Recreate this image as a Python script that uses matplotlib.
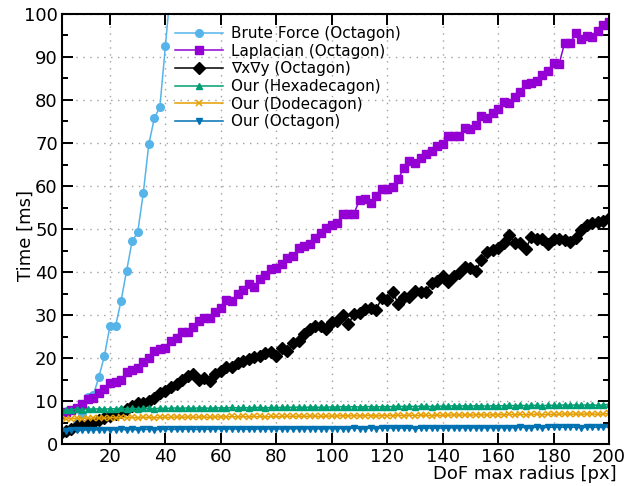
import numpy as np
import matplotlib
matplotlib.use('Agg')
import matplotlib.pyplot as plt
from matplotlib.ticker import MultipleLocator

# radius samples (every 2 px)
radius = np.arange(2, 201, 2)

brute_x = radius[:21]
brute = [2.4, 2.8, 3.6, 5.0, 7.0, 11.0, 11.4, 15.6, 20.5, 27.5,
         27.4, 33.3, 40.3, 47.2, 49.2, 58.3, 69.7, 75.8, 78.4, 92.6,
         107.0]

laplacian = [7.0, 7.5, 8.0, 8.3, 9.3, 10.4, 10.6, 11.8, 12.9, 14.1,
             14.5, 15.0, 16.7, 17.2, 17.6, 19.1, 19.9, 21.6, 22.0, 22.4,
             24.0, 24.6, 26.1, 26.1, 27.3, 28.7, 29.2, 29.3, 30.8, 31.7,
             33.5, 33.2, 34.8, 35.8, 37.2, 36.6, 38.3, 39.2, 40.7, 40.9,
             41.9, 43.3, 43.7, 45.5, 46.0, 46.5, 47.8, 49.0, 50.2, 51.0,
             51.4, 53.6, 53.5, 53.6, 56.7, 56.9, 56.1, 57.7, 59.3, 59.3,
             59.8, 61.6, 64.3, 65.7, 65.3, 66.4, 67.4, 68.2, 69.4, 69.8,
             71.7, 71.7, 71.7, 73.6, 73.2, 74.2, 76.3, 75.7, 77.0, 78.0,
             79.6, 79.2, 80.6, 81.9, 83.7, 84.0, 84.5, 85.8, 86.7, 88.5,
             88.4, 93.3, 93.2, 95.5, 94.1, 94.9, 94.7, 96.1, 97.4, 98.1]

gradxy = [2.3, 3.0, 3.6, 4.2, 4.4, 4.6, 5.0, 5.5, 6.0, 6.5,
          7.0, 7.5, 8.1, 8.9, 9.6, 9.6, 10.1, 10.6, 11.8, 12.4,
          13.3, 13.9, 14.9, 15.7, 16.3, 15.0, 15.3, 14.7, 16.3, 17.0,
          18.0, 18.0, 18.8, 19.4, 19.7, 20.2, 20.5, 21.1, 21.5, 20.5,
          22.3, 21.6, 23.4, 24.0, 25.5, 26.8, 27.4, 27.5, 26.8, 28.4,
          28.7, 30.0, 27.9, 30.2, 30.4, 31.4, 31.6, 31.2, 34.0, 33.5,
          35.4, 32.5, 34.1, 34.1, 35.6, 35.4, 35.4, 37.5, 37.9, 39.1,
          37.7, 39.1, 39.8, 41.1, 40.9, 40.2, 42.8, 44.7, 45.1, 45.5,
          46.8, 48.6, 46.7, 46.8, 45.4, 48.2, 47.6, 47.6, 46.6, 47.6,
          47.6, 47.4, 47.0, 47.8, 49.8, 50.9, 51.3, 51.7, 51.9, 52.5]

hexadecagon = [7.8, 7.9, 8.0, 8.1, 8.0, 8.2, 8.1, 8.2, 8.1, 8.2,
               8.2, 8.3, 8.2, 8.3, 8.2, 8.3, 8.3, 8.2, 8.3, 8.3,
               8.3, 8.4, 8.3, 8.4, 8.3, 8.4, 8.4, 8.3, 8.4, 8.4,
               8.4, 8.5, 8.4, 8.5, 8.4, 8.5, 8.5, 8.4, 8.5, 8.5,
               8.5, 8.6, 8.5, 8.6, 8.5, 8.6, 8.6, 8.5, 8.6, 8.6,
               8.6, 8.7, 8.6, 8.7, 8.6, 8.7, 8.7, 8.6, 8.7, 8.7,
               8.7, 8.8, 8.7, 8.8, 8.7, 8.8, 8.8, 8.7, 8.8, 8.8,
               8.8, 8.9, 8.8, 8.9, 8.8, 8.9, 8.9, 8.8, 8.9, 8.9,
               8.9, 9.0, 8.9, 9.0, 8.9, 9.0, 9.0, 8.9, 9.0, 9.0,
               9.0, 9.1, 9.0, 9.1, 9.0, 9.1, 9.1, 9.0, 9.1, 9.2]

dodecagon = [5.6, 5.8, 5.9, 6.0, 5.9, 6.0, 6.0, 6.1, 6.0, 6.1,
             6.1, 6.2, 6.1, 6.2, 6.1, 6.2, 6.2, 6.1, 6.2, 6.2,
             6.2, 6.3, 6.2, 6.3, 6.2, 6.3, 6.3, 6.2, 6.3, 6.3,
             6.3, 6.4, 6.3, 6.4, 6.3, 6.4, 6.4, 6.3, 6.4, 6.4,
             6.4, 6.5, 6.4, 6.5, 6.4, 6.5, 6.5, 6.4, 6.5, 6.5,
             6.5, 6.6, 6.5, 6.6, 6.5, 6.6, 6.6, 6.5, 6.6, 6.6,
             6.6, 6.7, 6.6, 6.7, 6.6, 6.7, 6.7, 6.6, 6.7, 6.7,
             6.7, 6.8, 6.7, 6.8, 6.7, 6.8, 6.8, 6.7, 6.8, 6.8,
             6.8, 6.9, 6.8, 6.9, 6.8, 6.9, 6.9, 6.8, 6.9, 6.9,
             6.9, 7.0, 6.9, 7.0, 6.9, 7.0, 7.0, 6.9, 7.0, 7.1]

octagon = [2.9, 3.1, 3.2, 3.3, 3.2, 3.3, 3.3, 3.3, 3.3, 3.3,
           3.3, 3.4, 3.3, 3.4, 3.3, 3.4, 3.4, 3.3, 3.4, 3.4,
           3.4, 3.4, 3.4, 3.5, 3.4, 3.4, 3.5, 3.4, 3.5, 3.5,
           3.5, 3.5, 3.5, 3.5, 3.4, 3.5, 3.5, 3.5, 3.5, 3.5,
           3.5, 3.6, 3.5, 3.6, 3.5, 3.6, 3.6, 3.5, 3.6, 3.6,
           3.6, 3.6, 3.6, 3.7, 3.6, 3.6, 3.7, 3.6, 3.7, 3.7,
           3.7, 3.7, 3.7, 3.7, 3.6, 3.7, 3.7, 3.7, 3.7, 3.7,
           3.7, 3.8, 3.7, 3.8, 3.7, 3.8, 3.8, 3.7, 3.8, 3.8,
           3.8, 3.8, 3.8, 3.9, 3.8, 3.8, 3.9, 3.8, 3.9, 3.9,
           3.9, 3.9, 3.9, 3.9, 3.8, 3.9, 3.9, 3.9, 3.9, 4.0]

plt.rcParams['font.family'] = 'DejaVu Sans'

fig = plt.figure(figsize=(6.44, 4.86), dpi=100)
ax = fig.add_axes([0.0963, 0.0864, 0.8494, 0.8848])

lw = 1.1
ax.plot(brute_x, brute, color='#56b4e9', marker='o', ms=5.5, lw=lw,
        label='Brute Force (Octagon)')
ax.plot(radius, laplacian, color='#9400d3', marker='s', ms=5.2, lw=lw,
        label='Laplacian (Octagon)')
ax.plot(radius, gradxy, color='black', marker='D', ms=5.8, lw=lw,
        label='\u2207x\u2207y (Octagon)')
ax.plot(radius, hexadecagon, color='#009e73', marker='^', ms=5, lw=lw,
        label='Our (Hexadecagon)')
ax.plot(radius, dodecagon, color='#e69f00', marker='x', ms=5, mew=1.1, lw=lw,
        label='Our (Dodecagon)')
ax.plot(radius, octagon, color='#0072b2', marker='v', ms=5, lw=lw,
        label='Our (Octagon)')

ax.set_xlim(2.7, 200)
ax.set_ylim(0, 100)
ax.xaxis.set_major_locator(MultipleLocator(20))
ax.yaxis.set_major_locator(MultipleLocator(10))
ax.yaxis.set_minor_locator(MultipleLocator(5))

ax.grid(True, which='major', color='#a0a0a0', linestyle=(0, (1, 4)), lw=1)
ax.tick_params(which='both', direction='in', top=True, right=True,
               labelsize=13, width=1.4)
ax.tick_params(which='major', length=8, pad=3)
ax.tick_params(which='minor', length=4)
ax.tick_params(axis='x', which='minor', top=False, bottom=False)
for s in ax.spines.values():
    s.set_linewidth(1.5)

fig.text(617 / 644, 1 - 479 / 486, 'DoF max radius [px]', ha='right',
         va='baseline', fontsize=13)
fig.text(26 / 644, 1 - 235 / 486, 'Time [ms]', ha='center', va='center',
         rotation=90, fontsize=13)

ax.legend(loc='upper left', bbox_to_anchor=(0.184, 1.0), frameon=False,
          fontsize=11, handlelength=3.15, handletextpad=0.55,
          labelspacing=0.17, borderaxespad=0.4)

fig.savefig('out.png', dpi=100)
